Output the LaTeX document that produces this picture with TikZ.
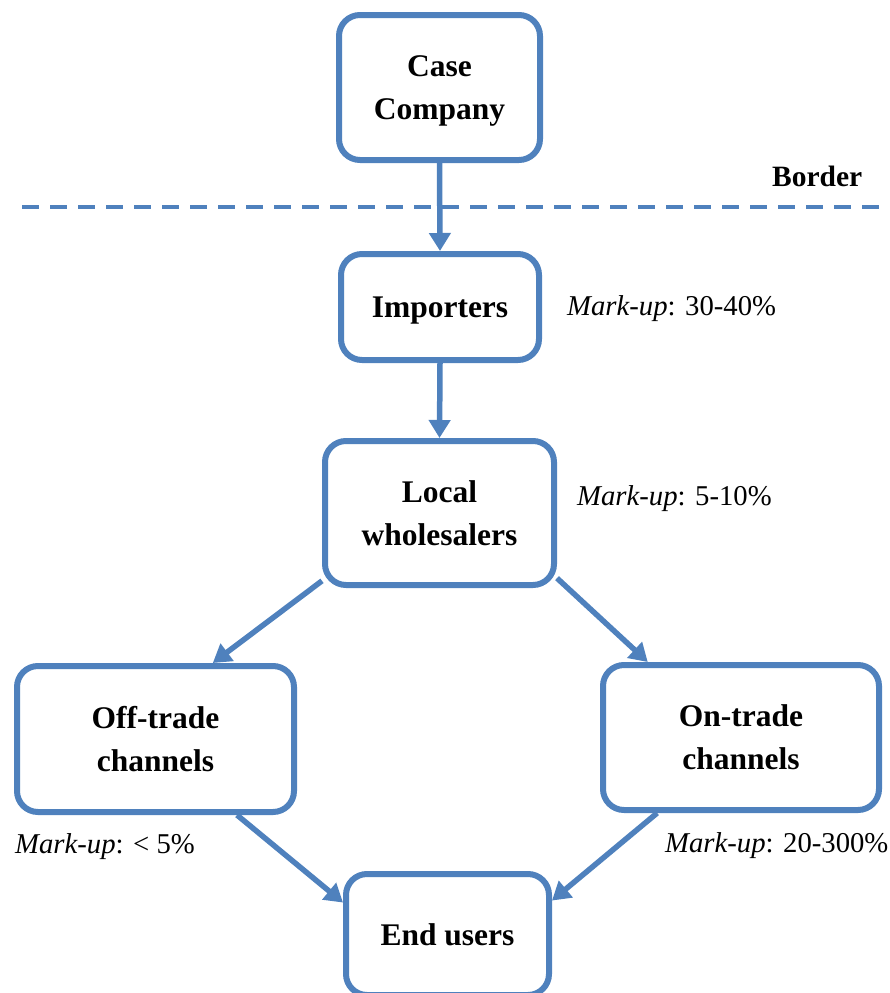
\documentclass[tikz,border=0pt]{standalone}
\usepackage{fontspec}
\setmainfont{Liberation Serif}
\usetikzlibrary{arrows.meta}
\definecolor{flowblue}{RGB}{79,129,189}
\begin{document}
\begin{tikzpicture}[x=1pt,y=-1pt,
  stage/.style={draw=flowblue, line width=6pt, rounded corners=21pt, fill=white,
    inner sep=0pt, text depth=0pt, align=center, font=\fontsize{31.5}{43}\selectfont\bfseries},
  flow/.style={draw=flowblue, line width=5.5pt, -{Triangle[width=21pt,length=18pt]}},
  borderline/.style={draw=flowblue, line width=4.5pt, dash pattern=on 17pt off 11pt},
  markup/.style={inner sep=0pt, anchor=base west, font=\fontsize{28.7}{34}\selectfont}]
\useasboundingbox (0,0) rectangle (890,993);

% border between the company and the local market
\coordinate (bl) at (22,207);
\coordinate (br) at (880,207);
\draw[borderline] (bl) -- (br);
\node[inner sep=0pt, anchor=base west, font=\fontsize{29.5}{34}\selectfont\bfseries] (border) at (772,186) {Border};

% distribution stages
\node[stage, minimum width=201pt, minimum height=145pt] (case) at (439.5,87.5) {Case\\Company};
\node[stage, minimum width=198pt, minimum height=106pt] (imp) at (440,307) {Importers};
\node[stage, minimum width=229pt, minimum height=144pt] (loc) at (439.5,513) {Local\\wholesalers};
\node[stage, minimum width=277pt, minimum height=146pt] (off) at (155.5,739) {Off-trade\\channels};
\node[stage, minimum width=276pt, minimum height=145pt] (on) at (741,737.5) {On-trade\\channels};
\node[stage, minimum width=203pt, minimum height=121pt] (end) at (447.5,934.5) {End users};

% flows
\draw[flow] (case.south) -- (imp.north);
\draw[flow] (imp.south) -- (loc.north);
\draw[flow] (loc.-150.4) -- (off.53.4);
\draw[flow] (loc.-29.6) -- (on.141.5);
\draw[flow] (off.-43.7) -- (end.163.2);
\draw[flow] (on.-138.4) -- (end.18.3);

% mark-up labels
\node[markup] (mimp) at (567,315) {\textit{Mark-up}: 30-40\%};
\node[markup] (mloc) at (577,505) {\textit{Mark-up}: 5-10\%};
\node[markup] (moff) at (15,853) {\textit{Mark-up}: < 5\%};
\node[markup] (mon) at (665,852) {\textit{Mark-up}: 20-300\%};
\end{tikzpicture}
\end{document}
